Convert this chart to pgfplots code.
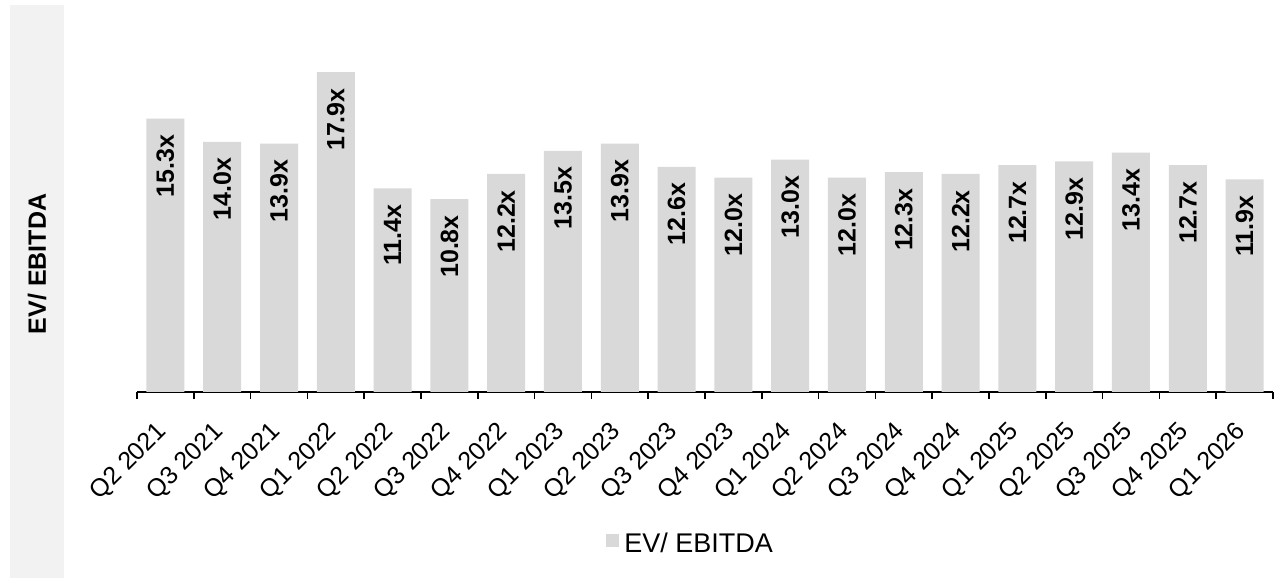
\documentclass[border=0pt]{standalone}
\usepackage{pgfplots}
\pgfplotsset{compat=1.18}
\usepackage{pgfplotstable}
\usepackage{fontspec}
\setmainfont{Liberation Sans}
\definecolor{bargray}{HTML}{D9D9D9}
\definecolor{bandgray}{HTML}{F2F2F2}
\pgfplotstableread{
x y lab
0 15.3 15.3x
1 14.0 14.0x
2 13.9 13.9x
3 17.9 17.9x
4 11.4 11.4x
5 10.8 10.8x
6 12.2 12.2x
7 13.5 13.5x
8 13.9 13.9x
9 12.6 12.6x
10 12.0 12.0x
11 13.0 13.0x
12 12.0 12.0x
13 12.3 12.3x
14 12.2 12.2x
15 12.7 12.7x
16 12.9 12.9x
17 13.4 13.4x
18 12.7 12.7x
19 11.9 11.9x
}\evdata
\begin{document}
\begin{tikzpicture}
\fill[white] (0,0) rectangle (1283pt,578pt);
\path[use as bounding box] (0,0) rectangle (1283pt,578pt);
\fill[bandgray] (10pt,0) rectangle (64pt,573pt);
\node[rotate=90, font=\fontsize{25}{30}\selectfont\bfseries, inner sep=0pt] at (37pt,314pt) {EV/ EBITDA};
\begin{axis}[
  at={(137pt,186pt)}, anchor=south west,
  scale only axis, width=1136pt, height=357.4pt,
  xmin=-0.5, xmax=19.5, ymin=0, ymax=20,
  axis x line*=bottom, axis y line=none,
  ytick=\empty,
  xtick={0,...,19},
  xticklabels={Q2 2021,Q3 2021,Q4 2021,Q1 2022,Q2 2022,Q3 2022,Q4 2022,Q1 2023,Q2 2023,Q3 2023,Q4 2023,Q1 2024,Q2 2024,Q3 2024,Q4 2024,Q1 2025,Q2 2025,Q3 2025,Q4 2025,Q1 2026},
  major tick length=0pt,
  minor xtick={-0.5,0.5,...,19.5},
  minor tick length=7pt,
  tick align=outside,
  x axis line style={line width=1.5pt, black},
  every tick/.style={line width=1.5pt, black},
  xticklabel style={xshift=-10.4pt, yshift=-28pt, rotate=45, anchor=north east, inner sep=0pt, font=\fontsize{25}{30}\selectfont},
  ybar, bar width=38pt,
  point meta=explicit symbolic,
  nodes near coords,
  every node near coord/.append style={yshift=-16pt, rotate=90, anchor=east, inner sep=0pt, font=\fontsize{25}{30}\selectfont\bfseries, black},
  legend style={at={(0.4129,-0.4225)}, anchor=west, draw=none, fill=none, inner sep=0pt, font=\fontsize{27}{32}\selectfont, nodes={inner xsep=5pt}},
  legend image code/.code={\fill[bargray] (0pt,-4pt) rectangle (13pt,8.5pt);},
]
\addplot[fill=bargray, draw=none] table[x=x, y=y, meta=lab] {\evdata};
\addlegendentry{EV/ EBITDA}
\end{axis}
\end{tikzpicture}
\end{document}
